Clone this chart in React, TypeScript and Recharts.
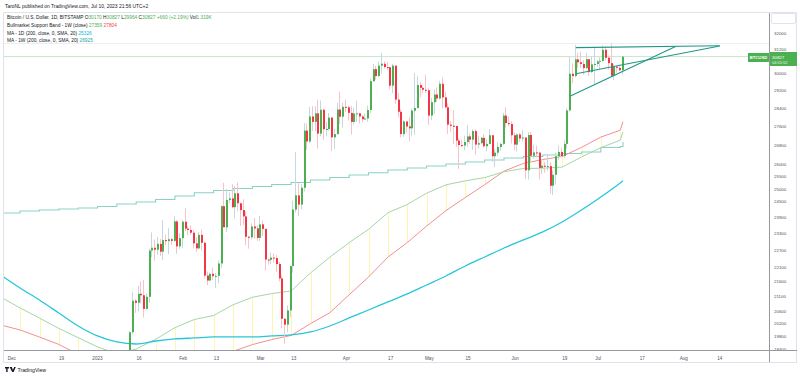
import React from 'react';
import { Bar, ComposedChart, Line, ReferenceLine, XAxis, YAxis } from 'recharts';

// daily candles, Bitstamp BTCUSD, first one on 2023-01-13
const candleStart = '2023-01-13';
const opens = [
  18850, 19930, 20950, 20880, 21180, 21130, 20680, 21080, 22680, 22780, 22710, 22920, 22640, 23060, 23020, 23090, 23030, 23750, 22830,
  23130, 23740, 23480, 23430, 23330, 22940, 22760, 23250, 22960, 21800, 21630, 21860, 21780, 21790, 22220, 24330, 23530, 24570, 24630, 24290, 24830, 24440, 24180, 23940, 23180, 23160, 23560, 23490,
  23140, 23640, 23470, 22360, 22350, 22430, 22410, 22200, 21700, 20360, 20170, 20630, 22130, 24200, 24750, 24390, 25050, 27420, 26950, 28040, 27800, 28180, 27290, 28340, 27480, 27490, 27990, 27130, 27270, 28350, 28030,
  28470, 28450, 28200, 27800, 28170, 28180, 28040, 27920, 27950, 28330, 29650, 30220, 29890, 30390, 30480, 30320, 30310, 29440, 30390, 28800, 28250, 27270, 27820, 27600, 27520, 28300, 28420, 29470, 29340, 29250,
  29230, 28080, 28680, 29030, 28850, 29530, 28900, 28450, 27680, 27630, 27620, 26990, 26800, 26780, 26930, 27170, 27030, 27400, 26820, 26880, 27110, 26750, 26850, 27220, 26330, 26480, 26720, 26850, 28080, 27750, 27710,
  27220, 26820, 27250, 27080, 27120, 25750, 27230, 26350, 26490, 26480, 25850, 25940, 25900, 25920, 25130, 25570, 26330, 26510, 26340, 26850, 28310, 30000, 29890, 30690, 30550, 30470, 30270, 30700, 30080, 30450,
  30470, 30590, 30620, 31160, 30770, 30510, 29900, 30340, 30280, 30170,
];
const highs = [
  19960, 21250, 21000, 21450, 21600, 21650, 21190, 22750, 23340, 23080, 23170, 23100, 23790, 23270, 23500, 23160, 23950, 23800, 23320,
  23800, 24250, 23590, 23590, 23430, 23160, 23350, 23450, 23010, 21940, 21910, 22080, 21890, 22320, 24370, 25250, 25000, 24870, 25190, 25120, 25260, 24470, 24600, 24130, 23210, 23680, 23880, 23600,
  23960, 23780, 23480, 22400, 22600, 22580, 22530, 22270, 21800, 20360, 20800, 22150, 24540, 26500, 25250, 25200, 27750, 27720, 28470, 28500, 28500, 28800, 28760, 28380, 27800, 28200, 28020, 27500, 28650, 29170, 28650,
  28800, 28530, 28500, 28440, 28750, 28200, 28100, 28170, 28530, 29780, 30470, 30380, 30590, 31000, 30600, 30560, 30320, 30480, 30400, 29090, 28370, 27880, 27820, 28000, 28390, 30030, 29880, 29600, 29440, 29960,
  29330, 28880, 29260, 29360, 29670, 29830, 29160, 28630, 27830, 28330, 27630, 27080, 27030, 27200, 27660, 27280, 27470, 27480, 27200, 27150, 27260, 27050, 27480, 27220, 26620, 26930, 26900, 28200, 28450, 28050, 27830,
  27350, 27300, 27320, 27450, 27130, 27350, 27360, 26800, 26780, 26530, 26210, 26090, 26420, 26080, 25750, 26480, 26790, 26690, 27020, 28400, 30800, 30500, 31400, 31000, 31050, 30650, 31000, 30700, 30850, 31280,
  30660, 30790, 31380, 31330, 30880, 31520, 30450, 30380, 30430, 30827,
];
const lows = [
  18720, 19880, 20550, 20600, 20860, 20400, 20660, 20870, 22440, 22320, 22530, 22480, 22350, 22870, 22550, 22890, 22990, 22560, 22740,
  22760, 23380, 23230, 23260, 22760, 22630, 22730, 22680, 21700, 21470, 21600, 21650, 21370, 21540, 22060, 23540, 23350, 24440, 24250, 23860, 24150, 23580, 23620, 22870, 22750, 23080, 23110, 23030,
  23030, 23200, 21980, 22180, 22200, 22250, 21930, 21600, 20060, 19570, 19930, 20410, 21900, 24100, 23960, 24200, 24900, 26600, 26880, 27400, 27400, 26650, 27170, 27030, 27170, 27420, 26540, 26640, 27250, 27700, 27550,
  28250, 27860, 27250, 27680, 27800, 27740, 27780, 27880, 27800, 28180, 29630, 29720, 29860, 30000, 30250, 30200, 29270, 29100, 28600, 28000, 27130, 27150, 27330, 26950, 27200, 27250, 28380, 28900, 29090, 29100,
  27670, 27880, 28150, 28700, 28800, 28400, 28400, 27280, 27370, 26840, 26730, 25810, 26700, 26570, 26730, 26850, 26600, 26400, 26650, 26830, 26700, 26530, 26840, 26100, 25880, 26340, 26560, 26800, 27550, 27600, 26870,
  26600, 26530, 26930, 26950, 25400, 25380, 26130, 26230, 26280, 25380, 25600, 25650, 25740, 24820, 24770, 25170, 26170, 26280, 26270, 26650, 28270, 29560, 29830, 30280, 30280, 29950, 30230, 29900, 30040, 29500,
  30320, 30190, 30570, 30640, 30200, 29850, 29710, 30050, 30120, 29964,
];
const closes = [
  19930, 20950, 20880, 21180, 21130, 20680, 21080, 22680, 22780, 22710, 22920, 22640, 23060, 23020, 23090, 23030, 23750, 22830, 23130,
  23740, 23480, 23430, 23330, 22940, 22760, 23250, 22960, 21800, 21630, 21860, 21780, 21790, 22220, 24330, 23530, 24570, 24630, 24290, 24830, 24440, 24180, 23940, 23180, 23160, 23560, 23490, 23140,
  23640, 23470, 22360, 22350, 22430, 22410, 22200, 21700, 20360, 20170, 20630, 22130, 24200, 24750, 24390, 25050, 27420, 26950, 28040, 27800, 28180, 27290, 28340, 27480, 27490, 27990, 27130, 27270, 28350, 28030, 28470,
  28450, 28200, 27800, 28170, 28180, 28040, 27920, 27950, 28330, 29650, 30220, 29890, 30390, 30480, 30320, 30310, 29440, 30390, 28800, 28250, 27270, 27820, 27600, 27520, 28300, 28420, 29470, 29340, 29250, 29230,
  28080, 28680, 29030, 28850, 29530, 28900, 28450, 27680, 27630, 27620, 26990, 26800, 26780, 26930, 27170, 27030, 27400, 26820, 26880, 27110, 26750, 26850, 27220, 26330, 26480, 26720, 26850, 28080, 27750, 27710, 27220,
  26820, 27250, 27080, 27120, 25750, 27230, 26350, 26490, 26480, 25850, 25940, 25900, 25920, 25130, 25570, 26330, 26510, 26340, 26850, 28310, 30000, 29890, 30690, 30550, 30470, 30270, 30700, 30080, 30450, 30470,
  30590, 30620, 31160, 30770, 30510, 29900, 30340, 30280, 30170, 30827,
];

// weekly readings of the indicator lines (last one is the running week)
const weekDates = [
  '2022-11-27', '2022-12-04', '2022-12-11', '2022-12-18', '2022-12-25', '2023-01-01', '2023-01-08', '2023-01-15', '2023-01-22',
  '2023-01-29', '2023-02-05', '2023-02-12', '2023-02-19', '2023-02-26', '2023-03-05', '2023-03-12', '2023-03-19', '2023-03-26',
  '2023-04-02', '2023-04-09', '2023-04-16', '2023-04-23', '2023-04-30', '2023-05-07', '2023-05-14', '2023-05-21', '2023-05-28',
  '2023-06-04', '2023-06-11', '2023-06-18', '2023-06-25', '2023-07-02', '2023-07-09', '2023-07-10',
];
const bandGreen = [
  21072, 20712, 20384, 20053, 19761, 19475, 19261, 19408, 19708, 20075, 20335, 20466, 20814, 21064, 21188, 21274, 21889,
  22444, 22967, 23454, 24077, 24397, 24836, 25165, 25325, 25455, 25694, 25824, 25835, 25881, 26298, 26691, 27007, 27359,
];
const bandRed = [
  20160, 20002, 19780, 19550, 19250, 18669, 18450, 18516, 18652, 18749, 18925, 19074, 19336, 19543, 19701, 19830, 20200,
  20555, 21148, 21750, 22444, 22968, 23575, 24160, 24665, 25171, 25719, 26031, 26193, 26322, 26699, 27141, 27435, 27804,
];
const ma200w = [
  24070, 24145, 24183, 24221, 24259, 24318, 24414, 24493, 24589, 24726, 24855, 24942, 25021, 25100, 25179, 25259, 25360,
  25460, 25561, 25654, 25763, 25845, 25927, 26011, 26094, 26177, 26259, 26319, 26382, 26446, 26509, 26698, 26740, 26925,
];
const ma200d = [
  21821, 21376, 20973, 20547, 20128, 19813, 19625, 19562, 19656, 19719, 19750, 19782, 19782, 19782, 19813, 19844, 19939,
  20128, 20385, 20644, 20908, 21175, 21478, 21786, 22131, 22451, 22771, 23063, 23357, 23728, 24182, 24686, 25241, 25326,
];

// drawn trend lines: start date, start price, end date, end price
const trendLines: [string, number, string, number][] = [
  ['2023-06-23', 31270, '2023-08-14', 31360],
  ['2023-06-21', 28960, '2023-07-29', 31320],
  ['2023-06-23', 30000, '2023-08-14', 31350],
];

const lastPrice = 30827;
const tickDates = [
  '2022-12-01', '2022-12-19', '2023-01-01', '2023-01-16', '2023-02-01', '2023-02-13', '2023-03-01', '2023-03-13', '2023-04-01',
  '2023-04-17', '2023-05-01', '2023-05-15', '2023-06-01', '2023-06-19', '2023-07-01', '2023-07-17', '2023-08-01', '2023-08-14',
];
const tickLabels = ['Dec', '19', '2023', '16', 'Feb', '13', 'Mar', '13', 'Apr', '17', 'May', '15', 'Jun', '19', 'Jul', '17', 'Aug', '14'];
const priceTicks = [
  19400, 19800, 20200, 20600, 21100, 21600, 22100, 22700, 23300, 23900, 24500, 25000, 25500, 26000, 26800, 27600, 28400, 29200, 30000, 31200, 32000, 32800,
];

const UP = '#4caf50';
const DOWN = '#f23645';
const FONT = '"Liberation Sans", Arial, sans-serif';

const DAY0 = Date.parse('2022-12-01');
const toDay = (iso: string) => Math.round((Date.parse(iso) - DAY0) / 86400000);

function buildRows() {
  const rows = new Map<number, any>();
  const row = (d: number) => {
    if (!rows.has(d)) rows.set(d, { day: d });
    return rows.get(d);
  };
  const first = toDay(candleStart);
  opens.forEach((o, i) => {
    const r = row(first + i);
    r.o = o;
    r.h = highs[i];
    r.l = lows[i];
    r.c = closes[i];
    r.range = [lows[i], highs[i]];
  });
  weekDates.forEach((w, i) => {
    const r = row(toDay(w));
    r.green = bandGreen[i];
    r.red = bandRed[i];
    r.w200 = ma200w[i];
    r.d200 = ma200d[i];
    if (i < weekDates.length - 1) r.band = [Math.min(bandGreen[i], bandRed[i]), Math.max(bandGreen[i], bandRed[i])];
  });
  return [...rows.values()].sort((a, b) => a.day - b.day);
}

const rows = buildRows();

function Candle(props: any) {
  const { x, y, width, height, payload } = props;
  if (!payload || payload.o == null || !isFinite(y) || !isFinite(height)) return <g />;
  const top = Math.min(y, y + height);
  const bot = Math.max(y, y + height);
  const lh = Math.log(payload.h);
  const span = lh - Math.log(payload.l) || 1;
  const at = (v: number) => top + ((bot - top) * (lh - Math.log(v))) / span;
  const up = payload.c >= payload.o;
  const bx = Math.round(x + width / 2 - 1);
  const y1 = at(Math.max(payload.o, payload.c));
  const y2 = at(Math.min(payload.o, payload.c));
  return (
    <g>
      <rect x={bx} y={top} width={1} height={bot - top} fill={up ? '#c3d9df' : '#f7c3c9'} />
      <rect x={bx} y={y1} width={2} height={Math.max(1, y2 - y1)} fill={up ? UP : DOWN} />
    </g>
  );
}

function BandTick(props: any) {
  const { x, y, width, height, payload } = props;
  if (!payload || !payload.band || !isFinite(y) || !isFinite(height)) return <g />;
  return <rect x={Math.round(x + width / 2)} y={Math.min(y, y + height)} width={1} height={Math.abs(height)} fill="#fff5b0" />;
}

function PriceTick(props: any) {
  const { x, y, payload } = props;
  return (
    <text x={x + 3} y={y + 1.6} fontSize={4.4} fill="#50535e" fontFamily={FONT}>
      {payload.value}
    </text>
  );
}

function DateTick(props: any) {
  const { x, y, payload } = props;
  const i = tickDates.findIndex((d) => toDay(d) === payload.value);
  return (
    <text x={x} y={y + 6.5} fontSize={4.6} fill="#50535e" textAnchor="middle" fontFamily={FONT}>
      {tickLabels[i] ?? ''}
    </text>
  );
}

const domainX: [number, number] = [-2.8, 273.8];

export default function App() {
  return (
    <div style={{ position: 'relative', width: 800, height: 378, background: '#fff', overflow: 'hidden' }}>
      <style>{'body{margin:0}'}</style>
      <ComposedChart width={800} height={378} data={rows} margin={{ top: 12, right: 3, bottom: 16, left: 4 }}>
        <XAxis
          xAxisId="x"
          dataKey="day"
          type="number"
          domain={domainX}
          allowDataOverflow
          ticks={tickDates.map(toDay)}
          tick={<DateTick />}
          tickLine={false}
          tickSize={0}
          axisLine={false}
          height={11}
          interval={0}
        />
        <XAxis xAxisId="xb" dataKey="day" type="number" domain={domainX} allowDataOverflow hide />
        <YAxis
          yAxisId="y"
          orientation="right"
          scale="log"
          type="number"
          domain={[19347, 33081]}
          allowDataOverflow
          ticks={priceTicks}
          tick={<PriceTick />}
          tickLine={false}
          tickSize={0}
          axisLine={false}
          width={28}
          interval={0}
        />
        <Bar xAxisId="xb" yAxisId="y" dataKey="band" barSize={1} shape={BandTick} isAnimationActive={false} />
        <ReferenceLine xAxisId="x" yAxisId="y" y={lastPrice} stroke="#c8e6c9" strokeWidth={1} />
        <Line xAxisId="x" yAxisId="y" dataKey="w200" type="stepAfter" stroke="#8ad1c6" strokeWidth={1.1} dot={false} connectNulls isAnimationActive={false} />
        <Line xAxisId="x" yAxisId="y" dataKey="red" type="linear" stroke="#f4908f" strokeWidth={1} dot={false} connectNulls isAnimationActive={false} />
        <Line xAxisId="x" yAxisId="y" dataKey="green" type="linear" stroke="#a5d6a7" strokeWidth={1} dot={false} connectNulls isAnimationActive={false} />
        <Line xAxisId="x" yAxisId="y" dataKey="d200" type="monotone" stroke="#26c6da" strokeWidth={1.3} dot={false} connectNulls isAnimationActive={false} />
        <Bar xAxisId="x" yAxisId="y" dataKey="range" barSize={2} shape={Candle} isAnimationActive={false} zIndex={450} />
        {trendLines.map(([d1, p1, d2, p2], i) => (
          <ReferenceLine
            key={i}
            xAxisId="x"
            yAxisId="y"
            segment={[
              { x: toDay(d1), y: p1 },
              { x: toDay(d2), y: p2 },
            ]}
            stroke="#1f9886"
            strokeWidth={1.1}
            zIndex={460}
          />
        ))}
      </ComposedChart>
      <svg width={800} height={378} style={{ position: 'absolute', left: 0, top: 0, pointerEvents: 'none' }} fontFamily={FONT}>
        <text x={5} y={7.8} fontSize={4.9} fill="#131722">
          TaroNL published on TradingView.com, Jul 10, 2023 21:56 UTC+2
        </text>
        <rect x={3.5} y={12.5} width={793} height={350} fill="none" stroke="#e0e3eb" />
        <line x1={4} x2={769} y1={43.5} y2={43.5} stroke="#eceef2" />
        <line x1={4} x2={797} y1={350.5} y2={350.5} stroke="#9598a1" />
        <line x1={769.5} x2={769.5} y1={13} y2={362} stroke="#9598a1" />
        <rect x={771.5} y={13.5} width={24} height={10} fill="#fff" stroke="#e0e3eb" rx={1.5} />
        <g fontSize={4.8} fill="#131722">
          <text x={7} y={19}>
            Bitcoin / U.S. Dollar, 1D, BITSTAMP <tspan>O</tspan><tspan fill={UP}>30170</tspan> <tspan>H</tspan><tspan fill={UP}>30827</tspan>{' '}
            <tspan>L</tspan><tspan fill={UP}>29964</tspan> <tspan>C</tspan><tspan fill={UP}>30827</tspan> <tspan fill={UP}>+660 (+2.19%)</tspan>{' '}
            <tspan>Vol</tspan><tspan fill={UP}>1.319K</tspan>
          </text>
          <text x={7} y={27.2}>
            Bullmarket Support Band - 1W (close) <tspan fill={UP}>27359</tspan> <tspan fill="#f44336">27804</tspan>
          </text>
          <text x={7} y={34.8}>
            MA - 1D (200, close, 0, SMA, 20) <tspan fill="#00bcd4">25326</tspan>
          </text>
          <text x={7} y={42.2}>
            MA - 1W (200, close, 0, SMA, 20) <tspan fill="#26a69a">26925</tspan>
          </text>
        </g>
        <rect x={748} y={53} width={21} height={9} fill={UP} />
        <text x={758.5} y={59.2} fontSize={4.2} fill="#fff" textAnchor="middle" fontWeight="bold">
          BTCUSD
        </text>
        <rect x={770} y={52} width={27} height={14} fill={UP} />
        <text x={772} y={58.6} fontSize={4.4} fill="#fff">
          30827
        </text>
        <text x={772} y={64} fontSize={4} fill="#e8f5e9">
          04:05:52
        </text>
        <g transform="translate(5,367)">
          <path d="M0 0h4v1.5h-1.4v3.6h-1.4v-3.6h-1.2z M4.6 0h2.2l1.1 3 1.3-3h1.6l-2.2 5.1h-1.4z" fill="#131722" />
          <text x={12.5} y={4.8} fontSize={5.2} fill="#131722">
            TradingView
          </text>
        </g>
      </svg>
    </div>
  );
}
